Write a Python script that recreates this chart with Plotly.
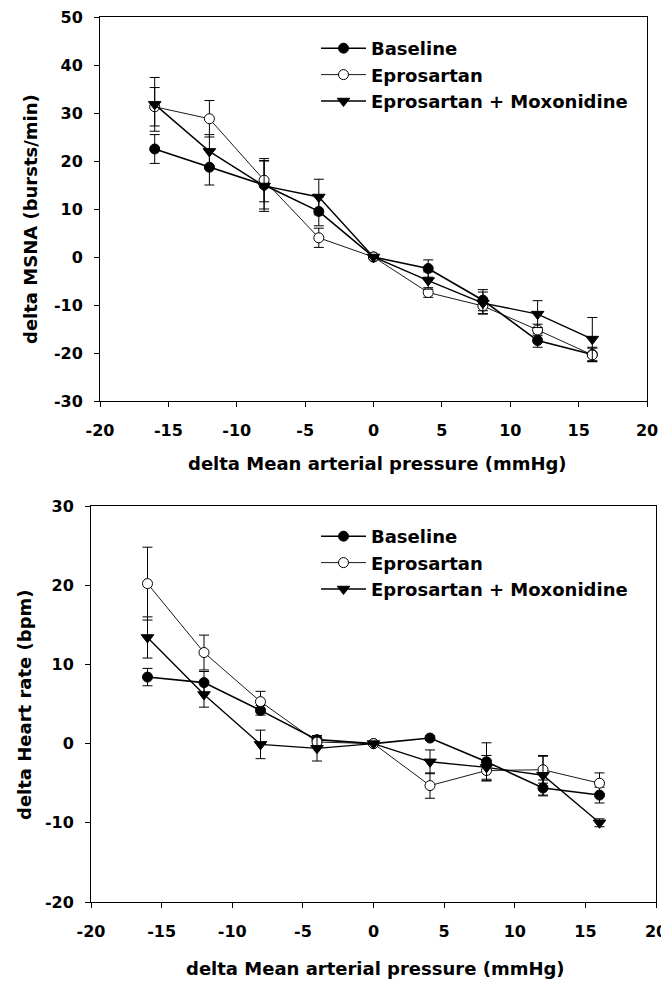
import plotly.graph_objects as go

# page body has an 8px margin; size the figure so it fits the 669x984 window
OFF = 8
W, H = 669 - OFF, 984 - OFF

x_map = [-16, -12, -8, -4, 0, 4, 8, 12, 16]

msna_base = [22.5, 18.7, 15.0, 9.5, 0, -2.4, -9.0, -17.4, -20.3]
msna_base_err = [3.0, 3.7, 5.0, 3.0, 0, 1.8, 2.2, 1.4, 1.5]
msna_epro = [31.3, 28.8, 16.0, 4.0, 0, -7.4, -10.2, -15.2, -20.4]
msna_epro_err = [4.0, 3.8, 4.5, 2.0, 0, 1.0, 1.6, 1.2, 1.4]
msna_em = [31.8, 22.0, 14.8, 12.5, 0, -4.9, -9.6, -11.9, -17.1]
msna_em_err = [5.6, 3.5, 5.3, 3.7, 0, 1.8, 2.3, 2.8, 4.5]

hr_base = [8.4, 7.7, 4.2, 0.5, 0, 0.7, -2.3, -5.6, -6.5]
hr_base_err = [1.1, 1.4, 0.6, 0.5, 0, 0.3, 2.4, 1.0, 1.0]
hr_epro = [20.2, 11.5, 5.3, 0.2, 0, -5.3, -3.4, -3.3, -5.0]
hr_epro_err = [4.6, 2.2, 1.3, 0.6, 0, 1.6, 1.3, 1.7, 1.3]
hr_em = [13.4, 6.2, -0.1, -0.6, 0, -2.3, -3.0, -4.0, -10.0]
hr_em_err = [2.6, 1.6, 1.8, 1.6, 0, 1.5, 1.5, 2.5, 0.5]

series_names = ["Baseline", "Eprosartan", "Eprosartan + Moxonidine"]
x_title = "delta Mean arterial pressure (mmHg)"
y_title_top = "delta MSNA (bursts/min)"
y_title_bot = "delta Heart rate (bpm)"

x_tickvals = [-20, -15, -10, -5, 0, 5, 10, 15, 20]
x_ticktext = ["-20", "-15", "-10", "-5", "0", "5", "10", "15", "20"]
y1_tickvals = [-30, -20, -10, 0, 10, 20, 30, 40, 50]
y1_ticktext = ["-30", "-20", "-10", "0", "10", "20", "30", "40", "50"]
y2_tickvals = [-20, -10, 0, 10, 20, 30]
y2_ticktext = ["-20", "-10", "0", "10", "20", "30"]

FONT = "DejaVu Sans, Liberation Sans, Arial, sans-serif"

styles = [
    dict(marker=dict(symbol="circle", size=10, color="black", line=dict(color="black", width=1)),
         line=dict(color="black", width=1.6)),
    dict(marker=dict(symbol="circle", size=10, color="white", line=dict(color="black", width=1)),
         line=dict(color="black", width=0.9)),
    dict(marker=dict(symbol="triangle-down", size=11, color="black", line=dict(color="black", width=1)),
         line=dict(color="black", width=1.4)),
]

fig = go.Figure()

def add(xa, ya, leg, ys, errs):
    for name, y, e, st in zip(series_names, ys, errs, styles):
        fig.add_trace(go.Scatter(
            x=x_map, y=y, name=name, mode="lines+markers",
            xaxis=xa, yaxis=ya, legend=leg,
            marker=st["marker"], line=st["line"],
            error_y=dict(type="data", array=e, visible=True, color="black",
                         thickness=1, width=5),
        ))

add("x", "y", "legend", [msna_base, msna_epro, msna_em],
    [msna_base_err, msna_epro_err, msna_em_err])
add("x2", "y2", "legend2", [hr_base, hr_epro, hr_em],
    [hr_base_err, hr_epro_err, hr_em_err])

# positions given in window pixels, converted to paper fractions
def px(v):
    return (v - OFF) / W

def py(v):
    return 1 - (v - OFF) / H

TICKFONT = dict(family=FONT, size=16, color="black", weight="bold")
TITLEFONT = dict(family=FONT, size=18, color="black", weight="bold")
LEGFONT = dict(family=FONT, size=18, color="black", weight="bold")

axis_common = dict(
    showgrid=False, zeroline=False, showline=True, linecolor="black", linewidth=1,
    mirror=True, ticks="outside", ticklen=5, tickwidth=1, tickcolor="black",
    tickfont=TICKFONT, automargin=False, ticklabeloverflow="allow",
)

fig.update_layout(
    width=W, height=H,
    margin=dict(l=0, r=0, t=0, b=0),
    paper_bgcolor="white", plot_bgcolor="white",
    showlegend=True,
    xaxis=dict(domain=[px(100), px(647)], range=[-20, 20],
               tickvals=x_tickvals, ticktext=x_ticktext,
               anchor="y", ticklabelstandoff=10, **axis_common),
    yaxis=dict(domain=[py(401), py(17)], range=[-30, 50],
               tickvals=y1_tickvals, ticktext=y1_ticktext,
               anchor="x", ticklabelstandoff=8, **axis_common),
    xaxis2=dict(domain=[px(91), px(656)], range=[-20, 20],
                tickvals=x_tickvals, ticktext=x_ticktext,
                anchor="y2", ticklabelstandoff=10, **axis_common),
    yaxis2=dict(domain=[py(902), py(506)], range=[-20, 30],
                tickvals=y2_tickvals, ticktext=y2_ticktext,
                anchor="x2", ticklabelstandoff=8, **axis_common),
    legend=dict(x=px(316), y=py(30), xanchor="left", yanchor="top",
                bgcolor="rgba(0,0,0,0)", itemwidth=45, tracegroupgap=0,
                font=LEGFONT),
    legend2=dict(x=px(316), y=py(518), xanchor="left", yanchor="top",
                 bgcolor="rgba(0,0,0,0)", itemwidth=45, tracegroupgap=0,
                 font=LEGFONT),
    annotations=[
        dict(text=x_title, x=px(377), y=py(464), xref="paper", yref="paper",
             showarrow=False, xanchor="center", yanchor="middle", font=TITLEFONT),
        dict(text=x_title, x=px(375), y=py(968), xref="paper", yref="paper",
             showarrow=False, xanchor="center", yanchor="middle", font=TITLEFONT),
        dict(text=y_title_top, x=px(31), y=py(219), xref="paper", yref="paper",
             showarrow=False, xanchor="center", yanchor="middle", textangle=-90,
             font=TITLEFONT),
        dict(text=y_title_bot, x=px(24), y=py(705), xref="paper", yref="paper",
             showarrow=False, xanchor="center", yanchor="middle", textangle=-90,
             font=TITLEFONT),
    ],
)

fig.write_html("out.html")
